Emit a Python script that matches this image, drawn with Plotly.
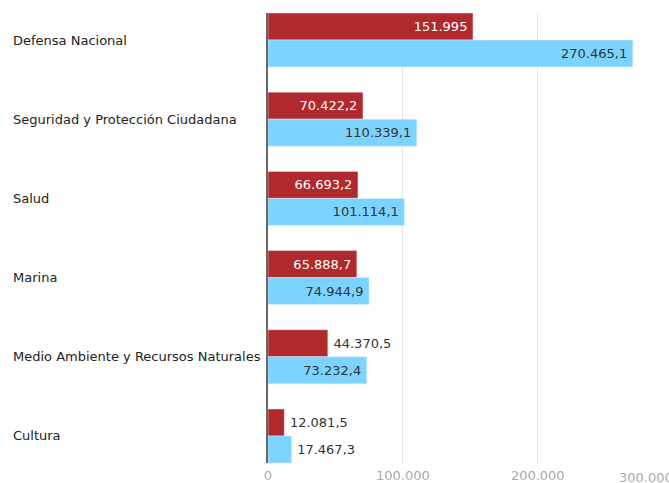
import plotly.graph_objects as go

categories = ["Defensa Nacional", "Seguridad y Protección Ciudadana", "Salud",
              "Marina", "Medio Ambiente y Recursos Naturales", "Cultura"]
red_values = [151995, 70422.2, 66693.2, 65888.7, 44370.5, 12081.5]
blue_values = [270465.1, 110339.1, 101114.1, 74944.9, 73232.4, 17467.3]
red_text_pos = ["inside", "inside", "inside", "inside", "outside", "outside"]
blue_text_pos = ["inside", "inside", "inside", "inside", "inside", "outside"]
tick_vals = [0, 100000, 200000, 300000]


def fmt(v):
    if float(v).is_integer():
        s = f"{int(v):,}"
        return s.replace(",", ".")
    s = f"{v:,.1f}"
    return s.replace(",", "X").replace(".", ",").replace("X", ".")


def label(v, pos):
    # small extra padding between bar end and label
    return fmt(v) + "\u2009" if pos == "inside" else "\u2009" + fmt(v)


FONT = "DejaVu Sans"
RED = "#B0292D"
BLUE = "#7DD3FF"
W, H = 669, 483
L, R, T, B = 268, 0, 13, 20
XMAX = 297300

fig = go.Figure()
fig.add_trace(go.Bar(
    y=categories, x=red_values, orientation="h", marker_color=RED,
    text=[label(v, p) for v, p in zip(red_values, red_text_pos)],
    textposition=red_text_pos, insidetextanchor="end",
    insidetextfont=dict(color="white", size=13, family=FONT),
    outsidetextfont=dict(color="#333333", size=13, family=FONT),
    constraintext="none", cliponaxis=False, showlegend=False,
))
fig.add_trace(go.Bar(
    y=categories, x=blue_values, orientation="h", marker_color=BLUE,
    text=[label(v, p) for v, p in zip(blue_values, blue_text_pos)],
    textposition=blue_text_pos, insidetextanchor="end",
    insidetextfont=dict(color="#333333", size=13, family=FONT),
    outsidetextfont=dict(color="#333333", size=13, family=FONT),
    constraintext="none", cliponaxis=False, showlegend=False,
))

plot_w = W - L - R
for c in categories:
    fig.add_annotation(
        x=(11 - L) / plot_w, xref="paper", y=c, yref="y",
        text=c, showarrow=False, xanchor="left", yanchor="middle",
        font=dict(size=13, color="#222222", family=FONT),
    )

# cut-off 300.000 tick label at the right edge
fig.add_annotation(
    x=(617 - L) / plot_w, xref="paper", y=0, yref="paper",
    yshift=-14, text=fmt(tick_vals[-1]), showarrow=False,
    xanchor="left", yanchor="middle",
    font=dict(size=13, color="#AAAAAA", family=FONT),
)

fig.update_layout(
    width=W, height=H,
    margin=dict(l=L, r=R, t=T, b=B),
    paper_bgcolor="white", plot_bgcolor="white",
    barmode="group", bargap=0.318, bargroupgap=0,
    separators=",.",
    xaxis=dict(range=[0, XMAX], tickvals=tick_vals[:-1], tickformat=",d",
               showgrid=True, gridcolor="#E6E6E6", gridwidth=1,
               zeroline=False, showline=False, ticks="",
               ticklabelstandoff=3,
               tickfont=dict(size=13, color="#AAAAAA", family=FONT)),
    yaxis=dict(range=[5.341, -0.341], showticklabels=False, ticks="",
               showgrid=False, zeroline=False, showline=True,
               linecolor="#666666", linewidth=2),
)

fig.write_html("out.html", config={"displayModeBar": False},
               post_script="document.body.style.margin='0';document.body.style.overflow='hidden';")
